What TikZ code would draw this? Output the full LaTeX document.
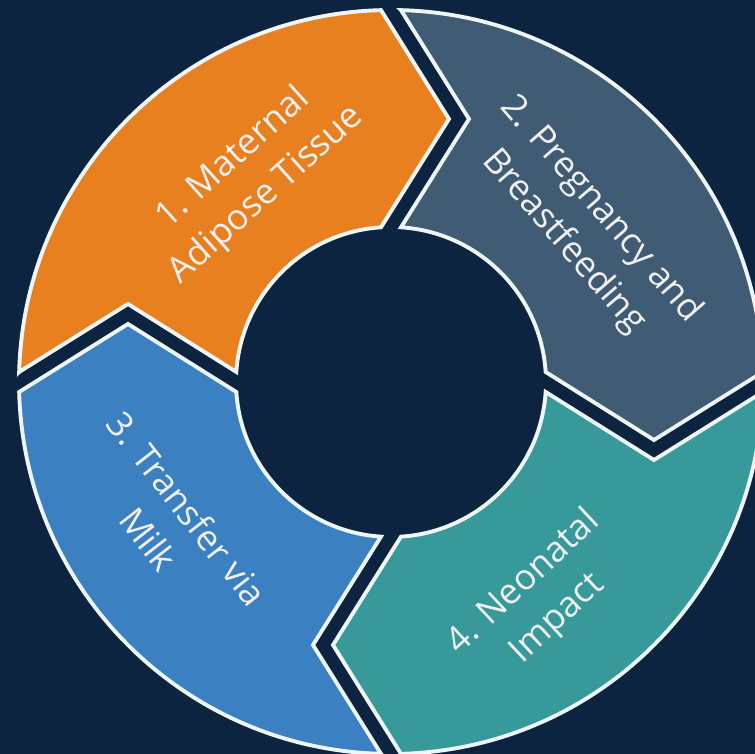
\documentclass[tikz,border=0pt]{standalone}
\usepackage{fontspec}
\setmainfont{Open Sans}
\definecolor{navy}{HTML}{0D2440}
\definecolor{matorange}{HTML}{E8801F}
\definecolor{preggrey}{HTML}{405B74}
\definecolor{milkblue}{HTML}{3B80C0}
\definecolor{neoteal}{HTML}{38999A}
\definecolor{rim}{HTML}{EEF6F8}
\begin{document}
\begin{tikzpicture}[arcpart/.style = {draw = rim, line width = 1.1pt, line join = miter},
	steptext/.style = {text = white!94!black, align = center, font = \fontsize{10.1}{14}\selectfont}]
	\fill [navy] (0,0) rectangle (7.55,7.54);
	\clip (0,0) rectangle (7.55,7.54);
	\begin{scope}[shift = {(3.91,3.72)}]
	\foreach \rot/\col in {0/matorange,-90/preggrey,-180/neoteal,90/milkblue}{
	\draw [arcpart, fill = \col, rotate = \rot] (178.46:3.72) -- (-2.63,0.78) -- (176.30:1.55)
		arc [start angle = 176.30, end angle = 93.70, radius = 1.55] -- (0.58,2.63) -- (91.54:3.72)
		arc [start angle = 91.54, end angle = 178.46, radius = 3.72] -- cycle;
	}
	\node [steptext, rotate = 42] (maternal) at (124.5:2.49) {1. Maternal\\Adipose Tissue};
	\node [steptext, rotate = -49] (pregnancy) at (39.3:2.47) {2. Pregnancy and\\Breastfeeding};
	\node [steptext, rotate = -52] (transfer) at (212.5:2.64) {3. Transfer via\\Milk};
	\node [steptext, rotate = 43] (neonatal) at (-55.6:2.65) {4. Neonatal\\Impact};
	\end{scope}
\end{tikzpicture}
\end{document}
